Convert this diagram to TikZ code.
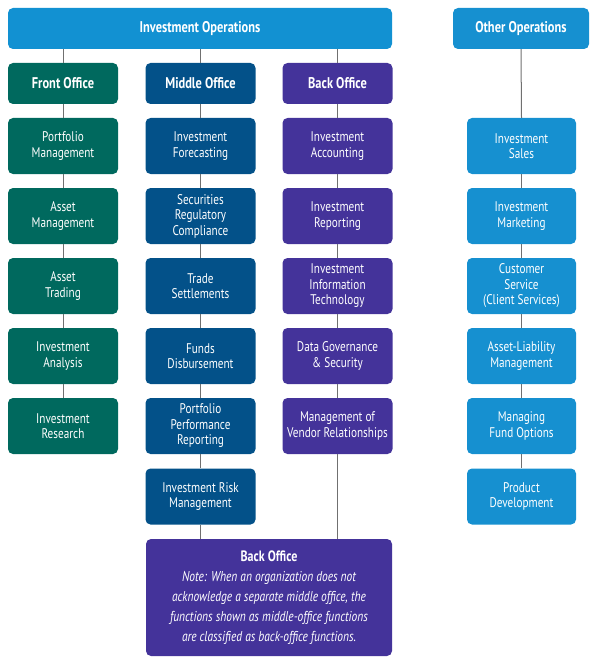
\documentclass[tikz,border=0pt]{standalone}
\usepackage{fontspec}
\setmainfont{PT Sans}[FakeStretch=0.8]
\definecolor{topblue}{HTML}{1291D2}
\definecolor{frontc}{HTML}{00695E}
\definecolor{midc}{HTML}{035189}
\definecolor{backc}{HTML}{44339A}
\definecolor{otherc}{HTML}{1690D0}
\definecolor{linec}{HTML}{707070}
\begin{document}
\begin{tikzpicture}[x=1pt,y=-1pt,
  box/.style={rounded corners=5pt, text=white, align=center, inner sep=0pt,
    font=\fontsize{14}{15.5}\selectfont, minimum width=110pt, minimum height=56pt},
  head/.style={box, font=\bfseries\fontsize{15.5}{17}\selectfont, minimum height=41pt},
  fo/.style={box, fill=frontc},
  mo/.style={box, fill=midc},
  bo/.style={box, fill=backc},
  oo/.style={box, fill=otherc, minimum width=109pt},
  conn/.style={draw=linec, line width=1pt}]
\useasboundingbox (0,0) rectangle (594,663);
\node[head, fill=topblue, minimum width=384pt] (io) at (200,28.5) {Investment Operations};
\node[head, fill=otherc, minimum width=136pt] (oo0) at (521,28.5) {Other Operations};
\node[head, fill=frontc] (fh) at (63,83.5) {Front Office};
\node[head, fill=midc] (mh) at (200.5,83.5) {Middle Office};
\node[head, fill=backc] (bh) at (337.5,83.5) {Back Office};
% front office
\node[fo] (f1) at (63,146) {Portfolio\\Management};
\node[fo] (f2) at (63,216) {Asset\\Management};
\node[fo] (f3) at (63,286) {Asset\\Trading};
\node[fo] (f4) at (63,356) {Investment\\Analysis};
\node[fo] (f5) at (63,426) {Investment\\Research};
% middle office
\node[mo] (m1) at (200.5,146) {Investment\\Forecasting};
\node[mo] (m2) at (200.5,216) {Securities\\Regulatory\\Compliance};
\node[mo] (m3) at (200.5,286) {Trade\\Settlements};
\node[mo] (m4) at (200.5,356) {Funds\\Disbursement};
\node[mo] (m5) at (200.5,426) {Portfolio\\Performance\\Reporting};
\node[mo] (m6) at (200.5,496.5) {Investment Risk\\Management};
% back office
\node[bo] (b1) at (337.5,146) {Investment\\Accounting};
\node[bo] (b2) at (337.5,216) {Investment\\Reporting};
\node[bo] (b3) at (337.5,286) {Investment\\Information\\Technology};
\node[bo] (b4) at (337.5,356) {Data Governance\\\& Security};
\node[bo] (b5) at (337.5,426) {Management of\\Vendor Relationships};
% other operations
\node[oo] (o1) at (521.5,146) {Investment\\Sales};
\node[oo] (o2) at (521.5,216) {Investment\\Marketing};
\node[oo] (o3) at (521.5,286) {Customer\\Service\\(Client Services)};
\node[oo] (o4) at (521.5,356) {Asset-Liability\\Management};
\node[oo] (o5) at (521.5,426) {Managing\\Fund Options};
\node[oo] (o6) at (521.5,496.5) {Product\\Development};
% bottom box
\node[box, fill=backc, minimum width=246pt, minimum height=117pt,
  font=\fontsize{14.3}{20}\selectfont] (bb) at (269,597.5)
  {{\bfseries\fontsize{15}{20}\selectfont Back Office}\\
   \itshape Note: When an organization does not\\
   \itshape acknowledge a separate middle office, the\\
   \itshape functions shown as middle-office functions\\
   \itshape are classified as back-office functions.};
% connectors
\draw[conn] (fh.north |- io.south) -- (fh.north);
\draw[conn] (mh.north |- io.south) -- (mh.north);
\draw[conn] (bh.north |- io.south) -- (bh.north);
\draw[conn] (oo0.south) -- (o1.north);
\draw[conn] (fh.south) -- (f1.north);
\draw[conn] (f1.south) -- (f2.north);
\draw[conn] (f2.south) -- (f3.north);
\draw[conn] (f3.south) -- (f4.north);
\draw[conn] (f4.south) -- (f5.north);
\draw[conn] (mh.south) -- (m1.north);
\draw[conn] (m1.south) -- (m2.north);
\draw[conn] (m2.south) -- (m3.north);
\draw[conn] (m3.south) -- (m4.north);
\draw[conn] (m4.south) -- (m5.north);
\draw[conn] (m5.south) -- (m6.north);
\draw[conn] (m6.south) -- (m6.south |- bb.north);
\draw[conn] (bh.south) -- (b1.north);
\draw[conn] (b1.south) -- (b2.north);
\draw[conn] (b2.south) -- (b3.north);
\draw[conn] (b3.south) -- (b4.north);
\draw[conn] (b4.south) -- (b5.north);
\draw[conn] (b5.south) -- (b5.south |- bb.north);
\draw[conn] (o1.south) -- (o2.north);
\draw[conn] (o2.south) -- (o3.north);
\draw[conn] (o3.south) -- (o4.north);
\draw[conn] (o4.south) -- (o5.north);
\draw[conn] (o5.south) -- (o6.north);
\end{tikzpicture}
\end{document}
